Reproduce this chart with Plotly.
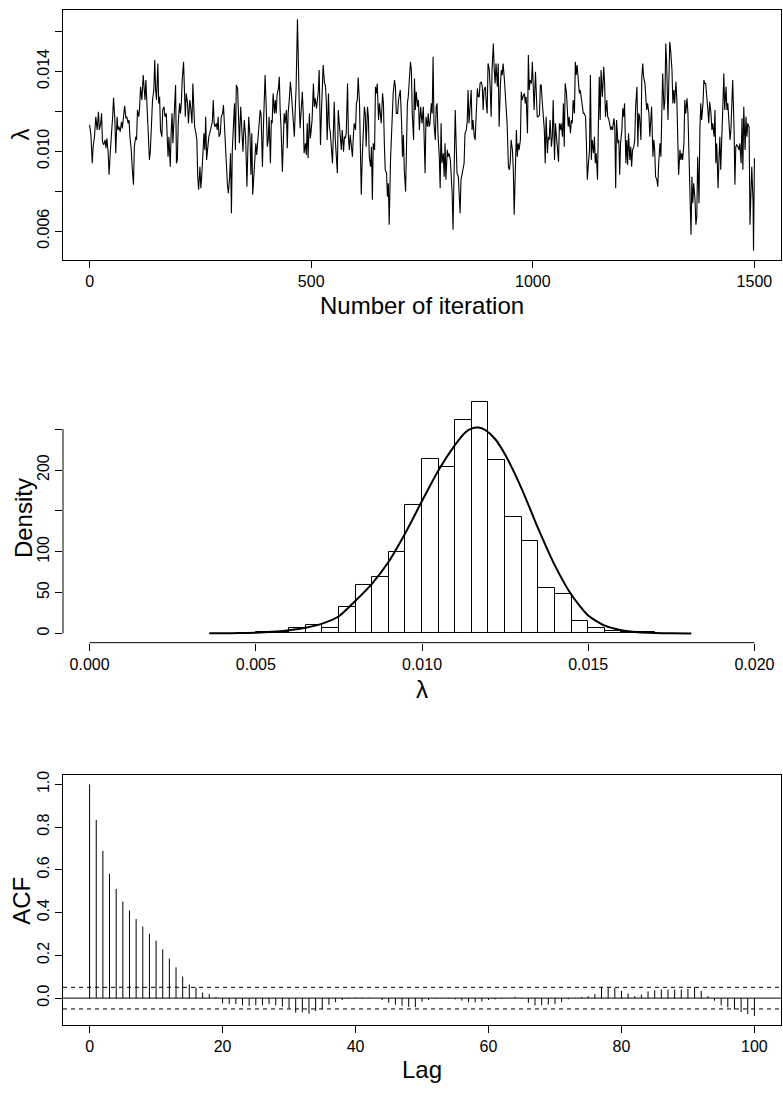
import plotly.graph_objects as go

# ---------------- data ----------------
trace_iter = [0,3,6,8,11,14,17,20,22,25,27,29,32,35,37,39,42,44,47,49,52,54,57,59,62,64,66,69,72,74,77,79,82,84,87,89,91,94,96,99,
101,104,106,108,111,113,115,118,121,123,125,127,130,133,135,137,139,142,145,147,149,151,154,156,158,160,163,165,168,170,173,175,177,179,182,184,186,188,191,194,196,198,
200,203,205,207,209,212,214,216,218,221,223,226,228,231,233,235,237,240,242,244,246,249,251,253,255,258,260,262,264,267,269,271,274,277,279,281,283,286,288,290,292,295,297,
300,302,304,307,309,311,313,316,318,320,322,325,327,329,331,334,336,338,341,346,349,352,355,357,359,362,364,366,368,371,373,375,377,380,383,385,387,390,392,394,396,399,
401,403,405,408,410,412,414,417,419,421,423,426,428,430,432,435,437,439,441,444,446,448,451,453,455,457,460,462,464,466,469,471,473,475,478,480,482,484,487,489,491,493,496,498,
500,502,505,507,509,512,514,516,518,521,523,525,527,530,532,534,536,539,541,543,545,548,550,552,554,557,559,561,563,566,568,570,573,575,577,579,582,584,586,588,591,593,595,597,
600,602,604,606,609,611,613,615,618,620,622,624,627,629,631,634,636,638,640,643,645,647,649,652,654,656,658,661,663,665,667,670,672,674,676,679,681,683,685,688,690,692,695,697,699,
701,704,706,708,710,713,715,717,719,722,724,726,728,731,733,735,737,740,742,744,747,750,753,755,757,759,762,764,766,768,771,773,775,777,780,782,784,786,789,791,793,795,798,
800,802,804,807,809,811,814,816,818,820,823,825,827,829,832,834,836,838,841,843,845,847,850,852,854,856,859,861,863,865,868,870,872,875,877,879,881,884,886,888,890,893,895,897,899,
902,904,906,908,911,913,915,917,920,922,924,927,929,931,933,936,938,940,942,945,947,949,951,954,956,958,960,963,965,967,969,972,974,976,978,981,983,985,988,990,992,994,997,999,
1001,1003,1006,1008,1010,1012,1015,1017,1019,1021,1024,1026,1028,1030,1033,1035,1037,1039,1042,1044,1046,1049,1051,1053,1055,1058,1060,1062,1064,1067,1069,1071,1073,1076,1078,1080,1082,1085,1087,1089,1091,1094,1096,1098,
1100,1103,1105,1107,1110,1112,1114,1116,1119,1121,1123,1125,1128,1130,1132,1134,1137,1139,1141,1143,1146,1148,1150,1152,1154,1157,1160,1162,1164,1167,1169,1171,1174,1176,1178,1180,1183,1185,1187,1189,1192,1194,1196,1198,
1201,1203,1205,1207,1210,1212,1214,1216,1219,1221,1223,1225,1228,1230,1232,1235,1237,1239,1241,1244,1246,1248,1250,1253,1255,1257,1259,1262,1264,1266,1268,1271,1273,1275,1277,1280,1282,1284,1287,1289,1291,1293,1296,1298,
1300,1302,1305,1307,1309,1311,1314,1316,1318,1320,1323,1325,1327,1329,1332,1334,1336,1338,1341,1343,1345,1348,1350,1352,1354,1357,1359,1361,1363,1366,1368,1370,1372,1375,1377,1379,1381,1384,1386,1388,1390,1393,1395,1397,1399,
1402,1404,1406,1409,1411,1413,1415,1418,1420,1422,1424,1427,1429,1431,1433,1436,1438,1440,1442,1445,1447,1449,1451,1454,1456,1458,1460,1463,1465,1467,1470,1472,1474,1476,1479,1481,1483,1485,1488,1490,1492,1494,1497,1498,1500]

trace_val = [0.01132,0.01082,0.00940,0.01023,0.01073,0.01173,0.01107,0.01198,0.01107,0.01140,0.01190,0.01048,0.01032,0.01057,0.01015,0.01065,0.00990,0.00882,0.01007,0.01057,
0.01173,0.01268,0.01157,0.00990,0.01173,0.01107,0.01123,0.01098,0.01148,0.01115,0.01173,0.01228,0.01165,0.01173,0.01140,0.01157,0.01073,0.01007,0.00923,0.00832,
0.01023,0.01073,0.01057,0.01207,0.01173,0.01223,0.01323,0.01257,0.01382,0.01323,0.01257,0.01357,0.01190,0.01090,0.00957,0.00998,0.01107,0.01257,0.01307,0.01457,
0.01307,0.01257,0.01440,0.01240,0.01273,0.01107,0.01073,0.01207,0.01223,0.01173,0.01190,0.01107,0.00973,0.01073,0.00923,0.01090,0.01190,0.01040,0.01240,0.01332,
0.00940,0.00957,0.01140,0.01240,0.01190,0.01240,0.01357,0.01448,0.01307,0.01173,0.01290,0.01240,0.01140,0.01257,0.01223,0.01140,0.01340,0.01190,0.01123,0.01090,
0.01057,0.00873,0.00807,0.00923,0.00815,0.00873,0.00940,0.01090,0.01007,0.01173,0.00957,0.01040,0.01073,0.01090,0.01123,0.01148,0.01257,0.01140,0.01123,0.01140,
0.01107,0.01173,0.01073,0.01090,0.01173,0.01190,0.01232,0.01123,0.01023,0.00923,0.00832,0.00790,0.00873,0.00990,0.00690,0.01007,0.01207,0.01240,0.01007,0.01332,
0.01315,0.01190,0.01040,0.01223,0.00998,0.01157,0.01073,0.00823,0.01007,0.01173,0.01073,0.00882,0.01090,0.00782,0.00890,0.00990,0.01040,0.00982,0.01073,0.01190,
0.01207,0.01182,0.00923,0.01107,0.01240,0.01382,0.01190,0.01023,0.01057,0.01173,0.00940,0.01157,0.01140,0.01290,0.01190,0.01257,0.01190,0.01282,0.01315,0.01373,
0.01207,0.01115,0.00898,0.01140,0.01190,0.01140,0.01207,0.01015,0.01190,0.01273,0.01348,0.01298,0.01240,0.01173,0.01073,0.01207,0.01323,0.01662,0.01407,0.01240,
0.01115,0.01257,0.01298,0.01190,0.00990,0.01040,0.00982,0.01140,0.00965,0.01190,0.01065,0.01107,0.01157,0.01340,0.01223,0.01265,0.01215,0.01257,0.01298,0.01407,
0.01032,0.01190,0.01298,0.01432,0.01340,0.01332,0.01257,0.01057,0.01290,0.01123,0.01098,0.01040,0.00940,0.01090,0.01248,0.01073,0.00990,0.00890,0.01207,0.01140,
0.01073,0.01007,0.01107,0.00998,0.01073,0.01065,0.01090,0.01340,0.01073,0.01007,0.01082,0.00990,0.00973,0.01073,0.01140,0.01107,0.01240,0.01257,0.01370,0.01240,
0.00923,0.00782,0.00957,0.01107,0.01223,0.01190,0.01023,0.01223,0.01173,0.00973,0.00923,0.01023,0.00757,0.01040,0.01007,0.01323,0.01290,0.01340,0.01157,0.01240,
0.01157,0.01140,0.01290,0.01240,0.01040,0.00907,0.00890,0.00773,0.00840,0.00632,0.00957,0.01073,0.01190,0.01290,0.01357,0.01323,0.01190,0.01190,0.01257,0.01290,
0.01307,0.01140,0.00973,0.01082,0.00907,0.00798,0.01073,0.01240,0.01273,0.01373,0.01448,0.01407,0.01190,0.01057,0.01365,0.01207,0.01298,0.01223,0.01257,0.01107,
0.01223,0.01140,0.01223,0.01057,0.00890,0.01173,0.01123,0.01190,0.01123,0.01140,0.01240,0.01190,0.01473,0.01140,0.01057,0.01223,0.01240,0.01090,0.00973,0.00815,
0.01140,0.00940,0.00990,0.00873,0.01040,0.00857,0.01007,0.00973,0.00990,0.00957,0.00890,0.00790,0.00607,0.01073,0.01207,0.01040,0.00890,0.00873,0.00773,0.00690,
0.00857,0.00890,0.00923,0.00940,0.01090,0.01107,0.01148,0.01307,0.01140,0.01290,0.01307,0.01107,0.01157,0.01073,0.01057,0.01173,0.01315,0.01273,0.01273,0.01340,
0.01348,0.01323,0.01207,0.01307,0.01323,0.01240,0.01190,0.01440,0.01407,0.01307,0.01173,0.01407,0.01540,0.01407,0.01340,0.01440,0.01323,0.01440,0.01123,0.01340,
0.01407,0.01382,0.01440,0.01357,0.01290,0.01223,0.01140,0.00923,0.00907,0.00940,0.01057,0.01007,0.00907,0.00682,0.00907,0.01107,0.00973,0.01040,0.01007,0.01057,
0.01298,0.01257,0.01273,0.01290,0.01240,0.01273,0.01090,0.01482,0.01307,0.01357,0.01340,0.01448,0.01323,0.01207,0.01398,0.01290,0.01173,0.01173,0.01182,0.01332,
0.01332,0.01257,0.01123,0.01107,0.00940,0.01173,0.00990,0.01073,0.01057,0.01157,0.01023,0.01073,0.01257,0.00957,0.01140,0.01073,0.01023,0.00948,0.01140,0.01107,
0.01140,0.01073,0.01240,0.01023,0.01340,0.01290,0.01207,0.01123,0.01173,0.01090,0.01157,0.01140,0.01257,0.01190,0.01448,0.01382,0.01432,0.01340,0.01290,0.01307,
0.01257,0.01240,0.01190,0.01190,0.01173,0.01040,0.00857,0.00923,0.01007,0.01382,0.00957,0.01057,0.00990,0.01073,0.00940,0.00990,0.00857,0.01140,0.01373,0.01157,
0.01407,0.01273,0.01423,0.01340,0.01173,0.01257,0.01173,0.01165,0.01123,0.01107,0.01123,0.01107,0.01165,0.01123,0.00815,0.01157,0.01040,0.01057,0.00882,0.01040,
0.01107,0.01215,0.01173,0.01240,0.00940,0.01057,0.00932,0.01090,0.00957,0.01023,0.00923,0.01007,0.01023,0.01057,0.01223,0.01323,0.01023,0.01190,0.01173,0.01057,
0.01373,0.01440,0.01373,0.01340,0.01273,0.01207,0.01240,0.01190,0.01073,0.01190,0.01223,0.00973,0.01057,0.01007,0.00873,0.00857,0.00823,0.00940,0.01040,0.00973,
0.01140,0.01390,0.01207,0.01257,0.01540,0.01440,0.01157,0.01323,0.01548,0.01507,0.01407,0.01240,0.01307,0.01240,0.01348,0.01257,0.01123,0.00882,0.01007,0.00957,
0.00990,0.00957,0.01040,0.01257,0.01190,0.01265,0.01190,0.01040,0.00873,0.00582,0.00873,0.00740,0.00840,0.00757,0.00632,0.00673,0.00973,0.00740,0.01107,0.01240,
0.01157,0.01240,0.01357,0.01340,0.01340,0.01223,0.01207,0.01140,0.01248,0.01190,0.01107,0.01140,0.01073,0.01207,0.00940,0.01040,0.00815,0.00957,0.01073,0.00907,
0.01073,0.01240,0.01390,0.01207,0.01323,0.01207,0.01240,0.01140,0.01057,0.01107,0.01257,0.01357,0.01123,0.00832,0.01023,0.01032,0.01023,0.01007,0.01040,0.00940,
0.01165,0.00907,0.01223,0.01007,0.01173,0.01073,0.01140,0.01123,0.00632,0.00823,0.00923,0.00740,0.00502,0.00965]

hist_breaks = [0.0050,0.0055,0.0060,0.0065,0.0070,0.0075,0.0080,0.0085,0.0090,0.0095,0.0100,0.0105,0.0110,0.0115,
               0.0120,0.0125,0.0130,0.0135,0.0140,0.0145,0.0150,0.0155,0.0160,0.0165,0.0170]
hist_density = [1.3,1.3,6.7,10.7,6.7,32.0,58.7,69.3,100.0,157.3,213.3,204.0,261.3,282.7,
                212.0,142.7,113.3,56.0,48.0,14.7,6.7,2.7,1.3,1.3]

dens_x = [0.0036,0.0040,0.0045,0.0050,0.0055,0.0060,0.0065,0.0070,0.0075,0.0080,0.0085,0.0090,0.0095,0.0100,
          0.0105,0.0110,0.0113,0.0115,0.0117,0.0119,0.0122,0.0125,0.0130,0.0135,0.0140,0.0145,0.0150,0.0155,0.0160,
          0.0165,0.0170,0.0175,0.0181]
dens_y = [0.1,0.2,0.4,0.9,2.0,4.0,7.0,12.0,21.0,40.0,61.0,88.0,123.0,162.0,
          200.0,231.0,246.0,251.0,252.0,249.0,238.0,219.0,177.0,128.0,83.0,47.0,22.0,9.5,4.0,
          1.5,0.6,0.2,0.05]

acf_lag = list(range(0, 101))
acf_val = [1.0,0.834,0.689,0.582,0.511,0.452,0.410,0.370,0.335,0.301,0.269,0.228,0.185,0.144,0.101,0.064,0.050,0.026,0.019,0.005,
           -0.025,-0.028,-0.028,-0.034,-0.036,-0.034,-0.034,-0.028,-0.034,-0.040,-0.047,-0.068,-0.067,-0.073,-0.061,-0.053,-0.031,-0.019,-0.009,-0.003,
           0.003,0.003,0.002,0.0,-0.009,-0.022,-0.031,-0.036,-0.040,-0.042,-0.017,-0.009,-0.003,-0.002,-0.003,-0.006,-0.012,-0.019,-0.020,-0.016,
           -0.009,-0.006,-0.003,0.0,0.006,-0.003,-0.022,-0.034,-0.034,-0.030,-0.028,-0.019,-0.006,0.002,0.005,0.009,0.019,0.050,0.050,0.048,
           0.034,0.022,0.009,0.017,0.031,0.037,0.040,0.040,0.040,0.040,0.043,0.051,0.034,0.009,-0.012,-0.034,-0.043,-0.053,-0.065,-0.075,-0.084]
acf_ci = 0.0506

trace_xticks = [0, 500, 1000, 1500]
trace_yticks = [0.006, 0.008, 0.010, 0.012, 0.014, 0.016]
trace_yticktext = ["0.006", "", "0.010", "", "0.014", ""]
hist_xticks = [0.000, 0.005, 0.010, 0.015, 0.020]
hist_xticktext = ["0.000", "0.005", "0.010", "0.015", "0.020"]
hist_yticks = [0, 50, 100, 150, 200, 250]
hist_yticktext = ["0", "50", "100", "", "200", ""]
acf_xticks = [0, 20, 40, 60, 80, 100]
acf_yticks = [0.0, 0.2, 0.4, 0.6, 0.8, 1.0]
acf_yticktext = ["0.0", "0.2", "0.4", "0.6", "0.8", "1.0"]

# ---------------- figure ----------------
W, H = 783, 1099
FONT = "Liberation Sans, Arial, Helvetica, sans-serif"

def px_x(p):
    return p / W

def px_y(p):
    return 1 - p / H

fig = go.Figure()

fig.add_trace(go.Scatter(x=trace_iter, y=trace_val, mode="lines",
                         line=dict(color="black", width=1.1), xaxis="x", yaxis="y",
                         showlegend=False, hoverinfo="skip"))

bin_w = hist_breaks[1] - hist_breaks[0]
bin_mid = [(a + b) / 2 for a, b in zip(hist_breaks[:-1], hist_breaks[1:])]
fig.add_trace(go.Bar(x=bin_mid, y=hist_density, width=[bin_w] * len(bin_mid),
                     marker=dict(color="white", line=dict(color="black", width=1)),
                     xaxis="x2", yaxis="y2", showlegend=False, hoverinfo="skip"))
fig.add_trace(go.Scatter(x=dens_x, y=dens_y, mode="lines", line=dict(color="black", width=2, shape="spline", smoothing=0.6),
                         xaxis="x2", yaxis="y2", showlegend=False, hoverinfo="skip"))

ax, ay = [], []
for l, v in zip(acf_lag, acf_val):
    ax += [l, l, None]
    ay += [0, v, None]
fig.add_trace(go.Scatter(x=ax, y=ay, mode="lines", line=dict(color="black", width=1),
                         xaxis="x3", yaxis="y3", showlegend=False, hoverinfo="skip"))

xdom = [px_x(63), px_x(781)]
tickfont = dict(family=FONT, size=16, color="black")
common = dict(ticks="outside", ticklen=7, tickwidth=1, tickcolor="black", tickfont=tickfont,
              showgrid=False, zeroline=False)

fig.update_layout(
    width=W, height=H, autosize=False,
    margin=dict(l=0, r=0, t=0, b=0),
    paper_bgcolor="white", plot_bgcolor="white",
    xaxis=dict(domain=xdom, anchor="y", range=[-60, 1560], tickvals=trace_xticks,
               showline=True, mirror=True, linecolor="black", linewidth=1, **common),
    yaxis=dict(domain=[px_y(257), px_y(6)], anchor="x", range=[0.00455, 0.01708],
               tickvals=trace_yticks, ticktext=trace_yticktext, tickangle=-90,
               showline=True, mirror=True, linecolor="black", linewidth=1, **common),
    xaxis2=dict(domain=xdom, anchor="y2", range=[-0.0008, 0.0208], tickvals=hist_xticks,
                ticktext=hist_xticktext, showline=False, **common),
    yaxis2=dict(domain=[px_y(641), px_y(390.4)], anchor="x2", range=[-11.3, 294.3],
                tickvals=hist_yticks, ticktext=hist_yticktext, tickangle=-90, showline=False, **common),
    xaxis3=dict(domain=xdom, anchor="y3", range=[-4, 104], tickvals=acf_xticks,
                showline=True, mirror=True, linecolor="black", linewidth=1, **common),
    yaxis3=dict(domain=[px_y(1025), px_y(774)], anchor="x3", range=[-0.127, 1.043],
                tickvals=acf_yticks, ticktext=acf_yticktext, tickangle=-90,
                showline=True, mirror=True, linecolor="black", linewidth=1, **common),
    bargap=0,
)

# histogram axis lines spanning the tick range only (R style)
fig.add_shape(type="line", xref="x2", yref="y2 domain", x0=min(hist_xticks), x1=max(hist_xticks),
              y0=0, y1=0, line=dict(color="black", width=1))
fig.add_shape(type="line", xref="x2 domain", yref="y2", x0=0, x1=0, y0=min(hist_yticks),
              y1=max(hist_yticks), line=dict(color="black", width=1))

# ACF reference lines
fig.add_shape(type="line", xref="x3 domain", yref="y3", x0=0, x1=1, y0=0, y1=0,
              line=dict(color="black", width=1))
for c in (acf_ci, -acf_ci):
    fig.add_shape(type="line", xref="x3 domain", yref="y3", x0=0, x1=1, y0=c, y1=c,
                  line=dict(color="black", width=1, dash="4px,4px"))

titlefont = dict(family=FONT, size=24, color="black")
ann = [
    ("Number of iteration", 422, 303, 0),
    ("λ", 21, 131, -90),
    ("Density", 23, 516, -90),
    ("λ", 422, 688, 0),
    ("ACF", 22, 900, -90),
    ("Lag", 422, 1069, 0),
]
for text, x, y, ang in ann:
    fig.add_annotation(text=text, x=px_x(x), y=px_y(y), xref="paper", yref="paper",
                       xanchor="center", yanchor="middle", showarrow=False,
                       textangle=ang, font=titlefont)

fig.write_html("out.html", config={"displayModeBar": False},
               post_script="document.body.style.margin='0';document.body.style.overflow='hidden';")
